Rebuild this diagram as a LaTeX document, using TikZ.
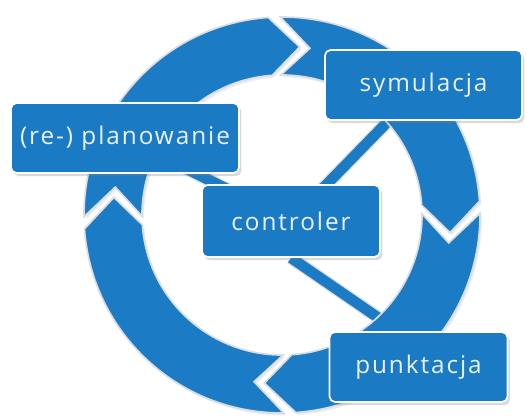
\documentclass[tikz,border=0pt]{standalone}
\usepackage{fontspec}
\usetikzlibrary{positioning,shadows}
\newfontfamily\stagefont[LetterSpace=8]{Open Sans}
\definecolor{ringblue}{HTML}{1B7BC4}
\definecolor{boxblue}{HTML}{1A7AC3}
\definecolor{edge}{HTML}{D9DCE0}
\definecolor{label}{HTML}{EAF1F8}
\pgfdeclarelayer{spokes}
\pgfdeclarelayer{ring}
\pgfsetlayers{spokes,ring,main}
\tikzset{
  stage/.style={
    draw=white,
    line width=1.2pt,
    fill=boxblue,
    rounded corners=4pt,
    minimum height=1.75cm,
    inner sep=0pt,
    text=label,
    font=\stagefont\fontsize{17.3}{20}\selectfont,
    drop shadow={opacity=0.3, shadow xshift=0.6mm, shadow yshift=-0.8mm}
  },
  ringseg/.style={
    fill=ringblue,
    draw=edge,
    line width=1.2pt,
    drop shadow={opacity=0.15, shadow xshift=0.5mm, shadow yshift=-0.6mm}
  },
  spoke/.style={
    draw=edge,
    line width=0.9pt,
    double=ringblue,
    double distance=7.5pt
  }
}

\begin{document}
\begin{tikzpicture}[x=0.025cm, y=0.025cm]
  \useasboundingbox (0,0) rectangle (527,417);
  \node[stage, minimum width=4.45cm, minimum height=1.8cm] (ctrl) at (291,196) {controler};
  \node[stage, minimum width=4.925cm] (symul) at (423.5,332) {symulacja};
  \node[stage, minimum width=5.7cm] (plan) at (125,279) {(re-) planowanie};
  \node[stage, minimum width=4.45cm] (punkt) at (418.5,50) {punktacja};
  % ring of four arrows
  \begin{pgfonlayer}{ring}
    \begin{scope}[shift={(282,202)}]
      \foreach \b in {94,4,-86,-176}{
        \draw[ringseg] (\b-3.5:198)
          arc[start angle=\b-3.5, end angle=\b-90, radius=198]
          -- (\b-100:169) -- (\b-90:140)
          arc[start angle=\b-90, end angle=\b-3.5, radius=140]
          -- (\b-13.5:169) -- cycle;
      }
    \end{scope}
  \end{pgfonlayer}
  \begin{pgfonlayer}{spokes}
    \draw[spoke] (ctrl.center) -- (symul.center);
    \draw[spoke] (ctrl.center) -- (plan.center);
    \draw[spoke] (ctrl.south) -- (punkt.120);
  \end{pgfonlayer}
\end{tikzpicture}
\end{document}
